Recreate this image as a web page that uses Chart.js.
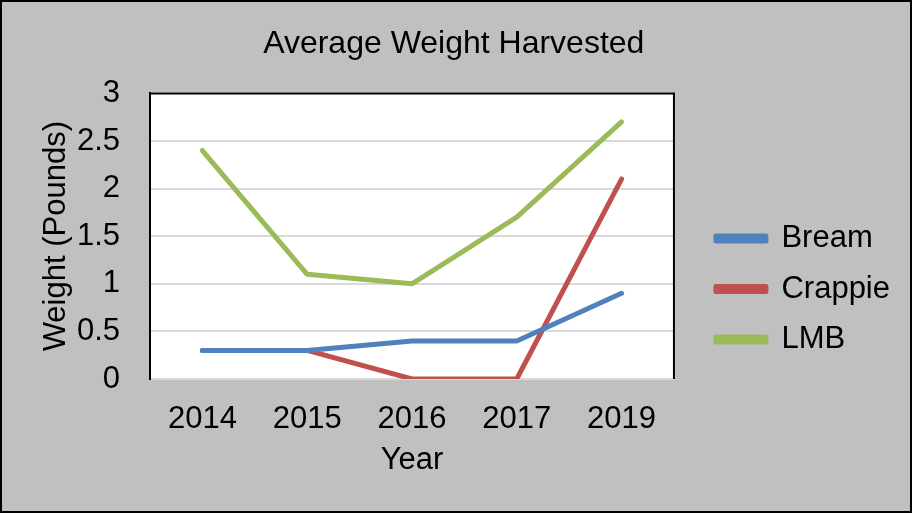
<!DOCTYPE html>
<html>
<head>
    <title>Average Weight Harvested</title>
    <script src="https://cdn.jsdelivr.net/npm/chart.js"></script>
    <style>
        body { margin: 0; background: #fff; }
        #chart { display: block; }
    </style>
</head>
<body>
<canvas id="chart" width="912" height="513"></canvas>
<script>
    const years = ['2014', '2015', '2016', '2017', '2019'];
    const bream = [0.3, 0.3, 0.4, 0.4, 0.9];
    const crappie = [0.3, 0.3, 0, 0, 2.1];
    const lmb = [2.4, 1.1, 1.0, 1.7, 2.7];

    Chart.defaults.font.family = "'Liberation Sans', Arial, sans-serif";
    Chart.defaults.color = '#000';

    // grey page, black outer frame, black top/right edge of the plot
    const frame = {
        id: 'frame',
        afterLayout(chart) {
            // nudge the legend block to where the original sits
            const lg = chart.legend;
            lg.left += 22.5; lg.right += 22.5;
            lg.top += 46; lg.bottom += 46;
        },
        beforeDraw(chart) {
            const ctx = chart.ctx;
            ctx.save();
            ctx.fillStyle = '#c0c0c0';
            ctx.fillRect(0, 0, chart.width, chart.height);
            const a = chart.chartArea;
            ctx.fillStyle = '#fff';
            ctx.fillRect(a.left, a.top, a.right - a.left, a.bottom - a.top);
            ctx.restore();
        },
        afterDraw(chart) {
            const ctx = chart.ctx;
            const a = chart.chartArea;
            ctx.save();
            ctx.strokeStyle = '#000';
            ctx.lineWidth = 2;
            ctx.beginPath();
            ctx.moveTo(a.left, a.top);
            ctx.lineTo(a.right, a.top);
            ctx.lineTo(a.right, a.bottom);
            ctx.stroke();
            ctx.strokeRect(1, 1, chart.width - 2, chart.height - 2);
            ctx.restore();
        }
    };

    function series(label, data, color) {
        return {
            label: label,
            data: data,
            borderColor: color,
            backgroundColor: color,
            borderWidth: 5,
            borderCapStyle: 'round',
            borderJoinStyle: 'round',
            pointRadius: 0,
            tension: 0
        };
    }

    new Chart(document.getElementById('chart'), {
        type: 'line',
        data: {
            labels: years,
            datasets: [
                series('Bream', bream, '#4f81bd'),
                series('Crappie', crappie, '#c0504d'),
                series('LMB', lmb, '#9bbb59')
            ]
        },
        options: {
            responsive: false,
            animation: false,
            layout: {
                padding: { top: 5, right: 34.5, bottom: 32, left: 30 }
            },
            plugins: {
                title: {
                    display: true,
                    text: 'Average Weight Harvested',
                    font: { size: 32, weight: 'normal' },
                    padding: { top: 20, bottom: 30 }
                },
                legend: {
                    position: 'right',
                    labels: {
                        boxWidth: 50,
                        boxHeight: 5,
                        padding: 19.5,
                        font: { size: 31 }
                    }
                },
                tooltip: { enabled: false }
            },
            scales: {
                x: {
                    offset: true,
                    grid: { display: false, drawTicks: false },
                    border: { color: '#d9d9d9', width: 2 },
                    ticks: { font: { size: 31 }, padding: 22 },
                    title: {
                        display: true,
                        text: 'Year',
                        font: { size: 31 },
                        padding: { top: 0, bottom: 2 }
                    },
                    afterFit(scale) { scale.height = 102; }
                },
                y: {
                    min: 0,
                    max: 3,
                    ticks: {
                        stepSize: 0.5,
                        font: { size: 31 },
                        padding: 30,
                        callback: v => String(v)
                    },
                    grid: { color: '#d9d9d9', lineWidth: 2, drawTicks: false },
                    border: { color: '#000', width: 2 },
                    title: {
                        display: true,
                        text: 'Weight (Pounds)',
                        font: { size: 31 },
                        padding: { top: 8, bottom: 0 }
                    },
                    afterFit(scale) { scale.width = 120; }
                }
            }
        },
        plugins: [frame]
    });
</script>
</body>
</html>
